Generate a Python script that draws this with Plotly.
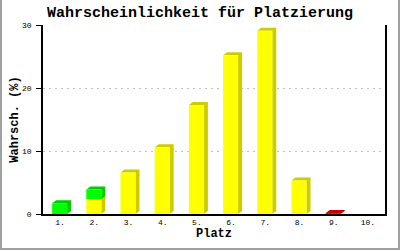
import plotly.graph_objects as go

# ---- data ----
places = [1, 2, 3, 4, 5, 6, 7, 8, 9, 10]
tick_labels = ["1.", "2.", "3.", "4.", "5.", "6.", "7.", "8.", "9.", "10."]
yellow_vals = [0, 2.4, 6.6, 10.6, 17.3, 25.2, 29.1, 5.3, 0, 0]
green_vals = [1.7, 1.5, 0, 0, 0, 0, 0, 0, 0, 0]
red_vals = [0, 0, 0, 0, 0, 0, 0, 0, 0.15, 0]

series = [
    (yellow_vals, "#FFFF00", "#CCCC00"),
    (green_vals, "#00FF00", "#00CC00"),
    (red_vals, "#FF0000", "#CC0000"),
]

W, H = 400, 250
ML, MR, MT, MB = 43, 15, 25, 36
PW, PH = W - ML - MR, H - MT - MB
XR = [0.5, 10.5]
YR = [0, 30]
px_x = (XR[1] - XR[0]) / PW
px_y = (YR[1] - YR[0]) / PH

bw = 15 * px_x        # front width in data units
dx = 4 * px_x         # depth right
dy = 3 * px_y         # depth up
shift = -0.5 * px_x

fig = go.Figure()
base = [0.0] * len(places)
for vals, front, side in series:
    sx, sy, fx, fy = [], [], [], []
    for i, (c, v) in enumerate(zip(places, vals)):
        if v <= 0:
            continue
        b = base[i]
        t = b + v
        l = c - bw / 2 + shift
        r = c + bw / 2 + shift
        sx += [l, l + dx, r + dx, r + dx, r, r, l, None]
        sy += [t, t + dy, t + dy, b + dy, b, t, t, None]
        fx += [l, r, r, l, l, None]
        fy += [b, b, t, t, b, None]
        base[i] = t
    fig.add_trace(go.Scatter(x=sx, y=sy, mode="lines", fill="toself", fillcolor=side,
                             line=dict(width=0, color=side), hoverinfo="skip", showlegend=False))
    fig.add_trace(go.Scatter(x=fx, y=fy, mode="lines", fill="toself", fillcolor=front,
                             line=dict(width=0, color=front), hoverinfo="skip", showlegend=False))

mono = "Liberation Mono, DejaVu Sans Mono, monospace"

# image border (gray frame on left, right, bottom)
def px2paper_x(p):
    return (p - ML) / PW

def px2paper_y(p):
    return (H - MB - p) / PH

border = "#a0a0a0"
shapes = [
    dict(type="line", xref="paper", yref="paper", x0=px2paper_x(1), x1=px2paper_x(1),
         y0=px2paper_y(0), y1=px2paper_y(H), line=dict(color=border, width=2)),
    dict(type="line", xref="paper", yref="paper", x0=px2paper_x(W - 1), x1=px2paper_x(W - 1),
         y0=px2paper_y(0), y1=px2paper_y(H), line=dict(color=border, width=2)),
    dict(type="line", xref="paper", yref="paper", x0=px2paper_x(0), x1=px2paper_x(W),
         y0=px2paper_y(H - 1), y1=px2paper_y(H - 1), line=dict(color=border, width=2)),
]

fig.update_layout(
    width=W, height=H,
    margin=dict(l=ML, r=MR, t=MT, b=MB, pad=0, autoexpand=False),
    paper_bgcolor="white", plot_bgcolor="white",
    title=dict(text="<b>Wahrscheinlichkeit für Platzierung</b>", x=0.5, xref="container",
               xanchor="center", y=1 - 12 / H, yanchor="middle",
               font=dict(family=mono, size=15, color="black")),
    shapes=shapes,
    xaxis=dict(range=XR, tickvals=places, ticktext=tick_labels, showgrid=False,
               zeroline=False, showline=True, linecolor="black", linewidth=1.5,
               ticks="", ticklabelstandoff=0, automargin=False,
               tickfont=dict(family=mono, size=8, color="black"),
               title=dict(text="<b>Platz</b>", standoff=2,
                          font=dict(family=mono, size=12, color="black")),
               fixedrange=True),
    yaxis=dict(range=YR, tickvals=[0, 10, 20, 30], showgrid=True, gridcolor="#c0c0c0",
               griddash="2px,4px", gridwidth=1, zeroline=False, showline=True,
               mirror=True, linecolor="black", linewidth=1.5, ticks="outside", ticklen=5,
               tickcolor="black", tickwidth=1, automargin=False, ticklabelstandoff=3,
               tickfont=dict(family=mono, size=8, color="black"),
               title=dict(text="<b>Wahrsch. (%)</b>", standoff=1,
                          font=dict(family=mono, size=12, color="black")),
               fixedrange=True),
)

fig.write_html("out.html")
